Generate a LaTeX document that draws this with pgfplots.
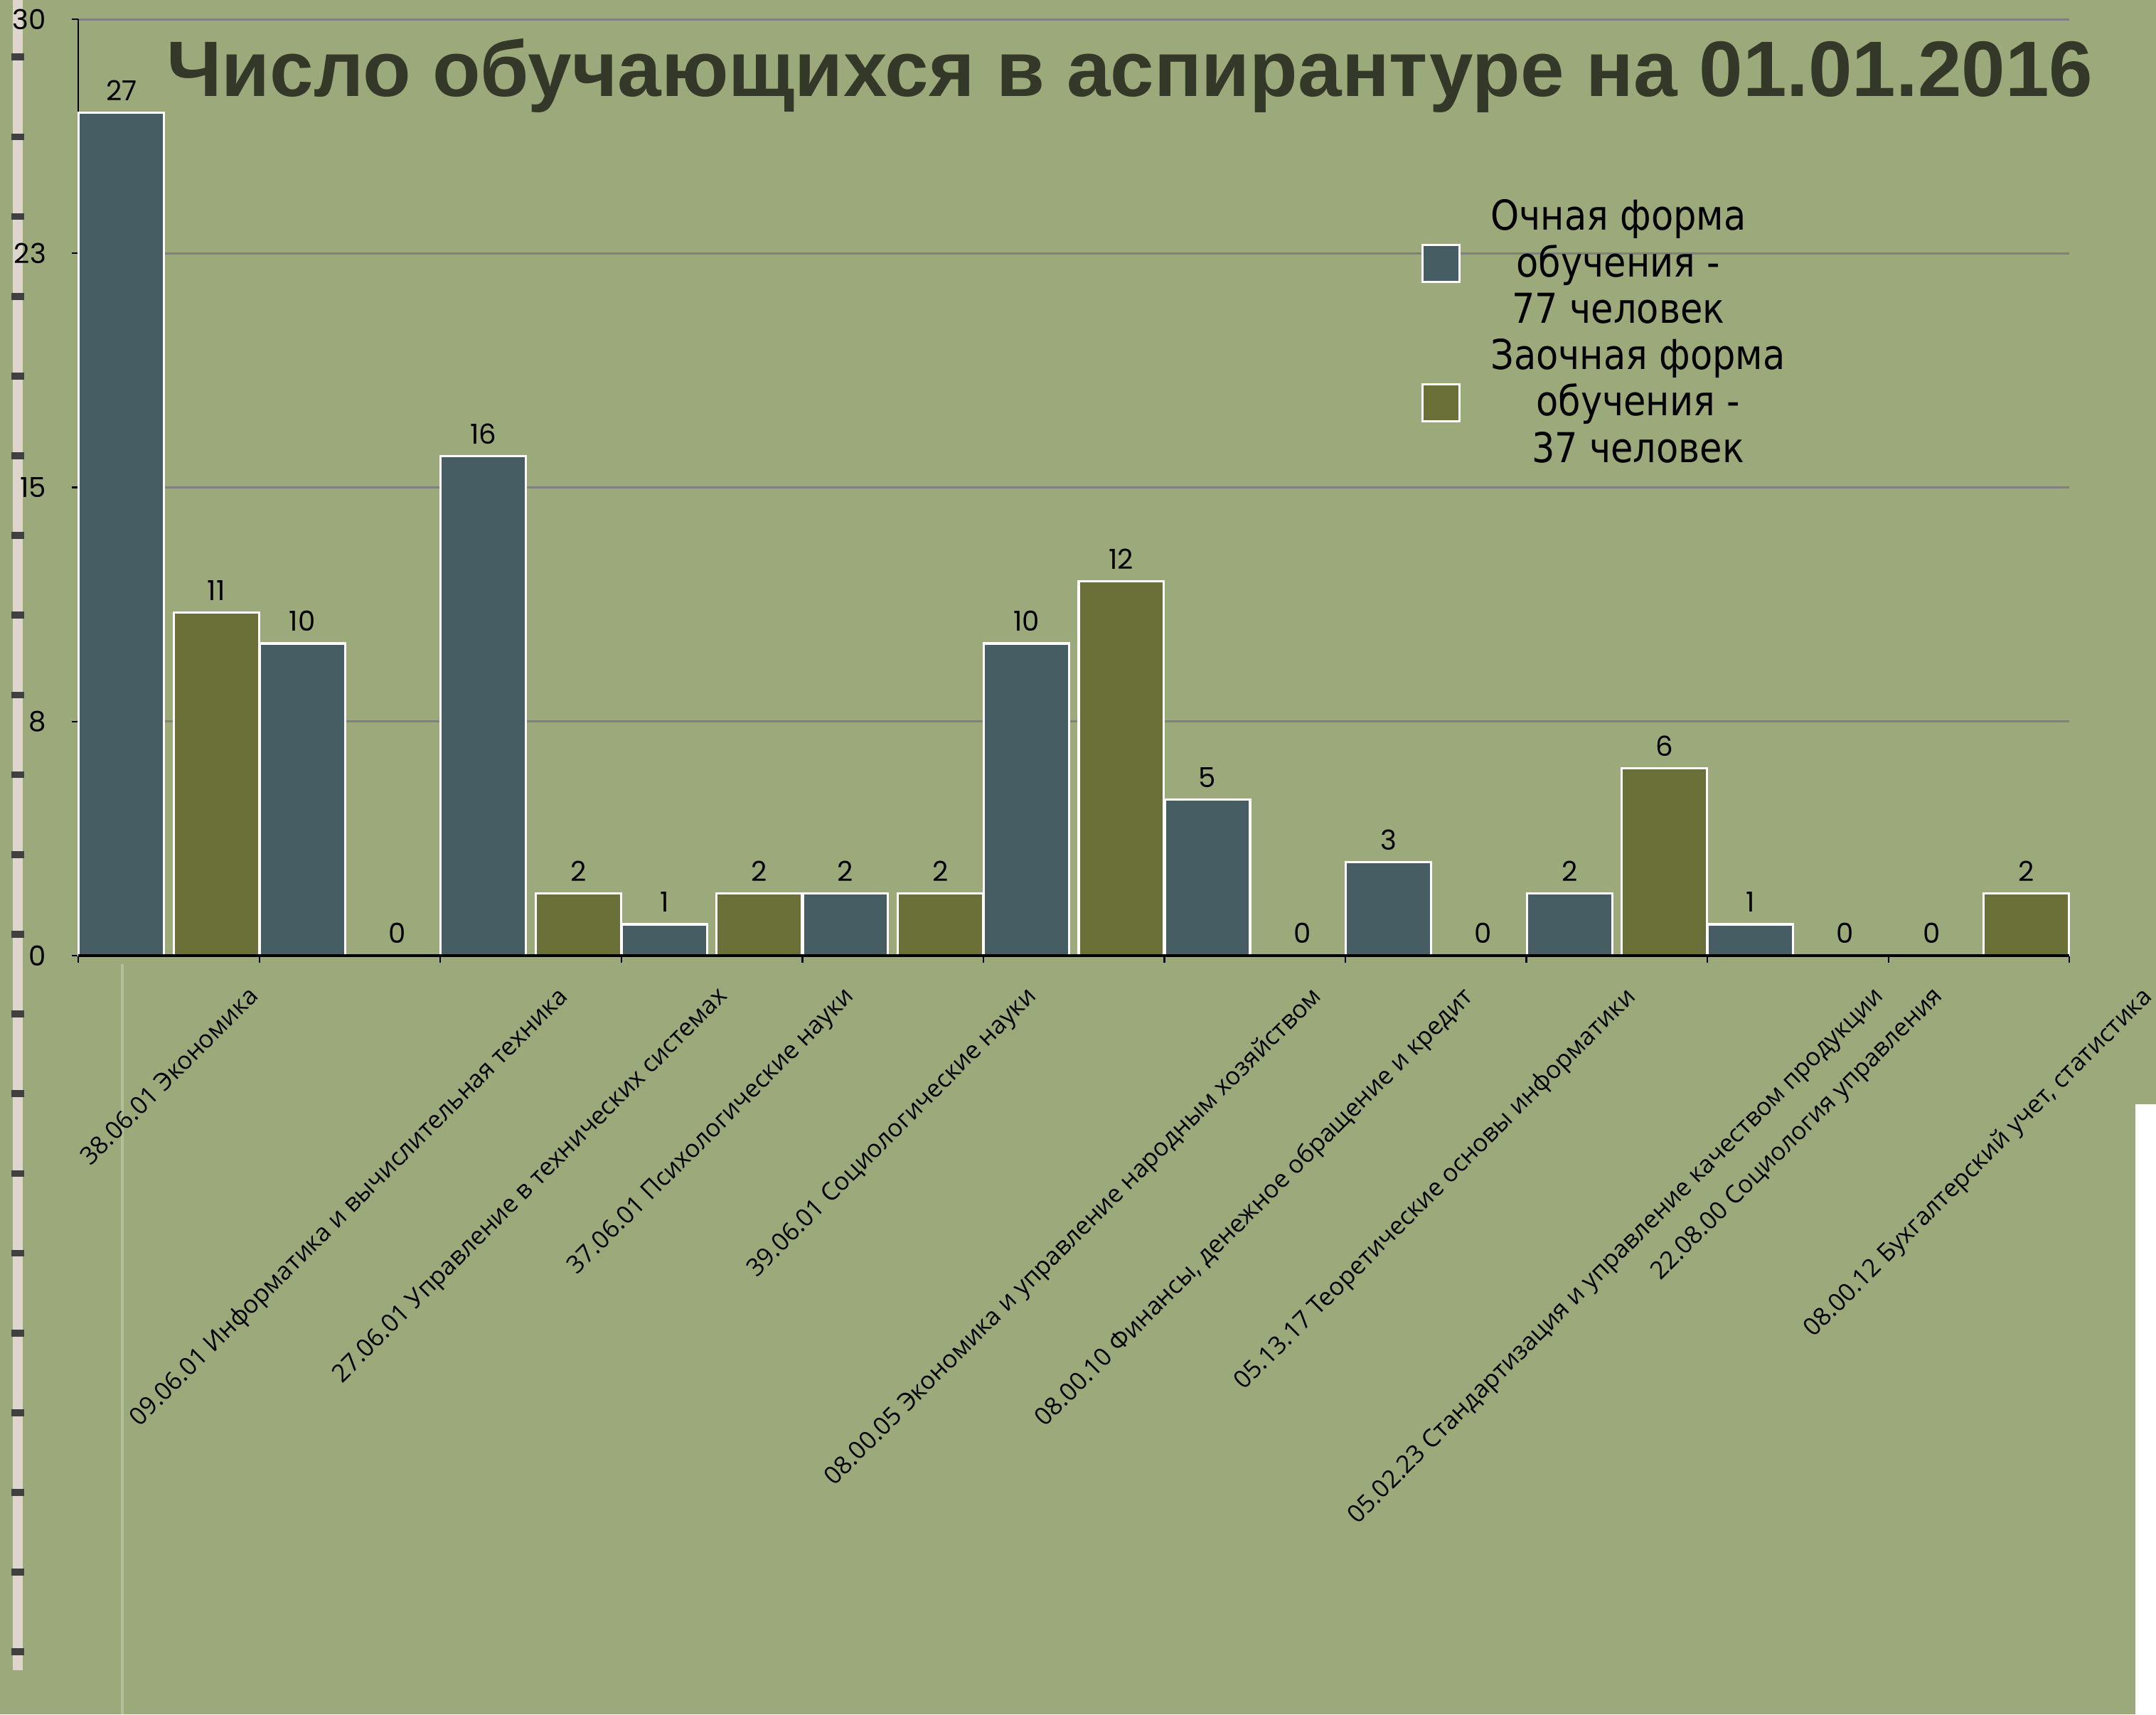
\documentclass[border=0pt]{standalone}
\usepackage{fontspec}
\setmainfont{Open Sans}
\usepackage{pgfplots}
\pgfplotsset{compat=1.18}
\newfontfamily\titlefamily{Liberation Sans}
\newfontfamily\legfamily{DejaVu Sans}[FakeStretch=0.88]
\newfontfamily\numfamily{Poppins}
\newfontfamily\labfamily{Open Sans}
\definecolor{bg}{RGB}{156,169,122}
\definecolor{slatebar}{RGB}{70,93,99}
\definecolor{olivebar}{RGB}{107,111,56}
\definecolor{titlecol}{RGB}{52,56,40}
\definecolor{ropecol}{RGB}{222,213,207}
\definecolor{gridcol}{RGB}{128,128,128}

\begin{document}
\begin{tikzpicture}
% background and decoration
\fill[bg] (-28.5pt,-276pt) rectangle (755.5pt,347.5pt);
\draw[line width=1pt, white, opacity=0.25] (16pt,-3pt) -- (16pt,-276pt);
\draw[line width=3.5pt, ropecol] (-22pt,347.5pt) -- (-22pt,-260pt);
\draw[line width=4.5pt, black!75, dash pattern=on 2.5pt off 26.5pt] (-22pt,328pt) -- (-22pt,-260pt);
\fill[white] (748pt,-54pt) rectangle (755.5pt,-276pt);

\begin{axis}[
  at={(0pt,0pt)}, anchor=south west,
  scale only axis, width=724pt, height=340.5pt,
  xmin=-0.5, xmax=10.5, ymin=0, ymax=30,
  clip=false,
  axis lines=left,
  axis line style={-, black, line width=0.6pt},
  ybar=3.5pt, bar width=31pt,
  tick align=outside,
  xtick={0,...,10},
  major x tick style={draw=none},
  minor xtick={-0.5,0.5,...,10.5},
  minor x tick style={black, line width=0.6pt},
  minor tick length=2.5pt,
  ytick={0,7.5,15,22.5,30},
  yticklabels={0,8,15,23,30},
  major tick length=2.5pt,
  ytick style={black, line width=0.6pt},
  ymajorgrids,
  grid style={gridcol, line width=0.75pt},
  yticklabel style={font=\numfamily\fontsize{10}{12}\selectfont, inner sep=0pt, anchor=east, xshift=-9pt},
  xticklabel style={font=\labfamily\fontsize{9}{11}\selectfont, inner sep=0pt, anchor=north, yshift=-8pt},
  xticklabels={
    {\rotatebox{45}{38.06.01 Экономика}},
    {\rotatebox{45}{09.06.01 Информатика и вычислительная техника}},
    {\rotatebox{45}{27.06.01 Управление в технических системах}},
    {\rotatebox{45}{37.06.01 Психологические науки}},
    {\rotatebox{45}{39.06.01 Социологические науки}},
    {\rotatebox{45}{08.00.05 Экономика и управление народным хозяйством}},
    {\rotatebox{45}{08.00.10 Финансы, денежное обращение и кредит}},
    {\rotatebox{45}{05.13.17 Теоретические основы информатики}},
    {\rotatebox{45}{05.02.23 Стандартизация и управление качеством продукции}},
    {\rotatebox{45}{22.08.00 Социология управления}},
    {\rotatebox{45}{08.00.12 Бухгалтерский учет, статистика}}},
  /pgf/number format/assume math mode=true,
  nodes near coords,
  every node near coord/.append style={font=\numfamily\fontsize{10}{12}\selectfont, inner sep=0pt, yshift=4pt, black},
  legend style={draw=none, fill=none, at={(0.670,0.82)}, anchor=north west,
    font=\legfamily\fontsize{15}{17}\selectfont,
    cells={anchor=west, align=center}, row sep=0pt,
    /tikz/every odd column/.append style={column sep=9pt}},
  legend image code/.code={\draw[#1, line width=0.8pt] (0pt,-6.75pt) rectangle (13.5pt,6.75pt);},
]
\addplot[fill=slatebar, draw=white, line width=0.8pt] coordinates {
  (0,27) (1,10) (2,16) (3,1) (4,2) (5,10) (6,5) (7,3) (8,2) (9,1) (10,0)};
\addlegendentry{Очная форма\\обучения -\\77 человек}
\addplot[fill=olivebar, draw=white, line width=0.8pt] coordinates {
  (0,11) (1,0) (2,2) (3,2) (4,2) (5,12) (6,0) (7,0) (8,6) (9,0) (10,2)};
\addlegendentry{Заочная форма\\обучения -\\37 человек}
\draw[black, line width=0.9pt] (rel axis cs:0,0) -- (rel axis cs:1,0);
\node[font=\titlefamily\bfseries\fontsize{28.6}{32}\selectfont, text=titlecol, anchor=base]
  at (rel axis cs:0.528,0.918) {Число обучающихся в аспирантуре на 01.01.2016};
\end{axis}
\pgfresetboundingbox
\path[use as bounding box] (-28.5pt,-276pt) rectangle (755.5pt,347.5pt);
\end{tikzpicture}
\end{document}
